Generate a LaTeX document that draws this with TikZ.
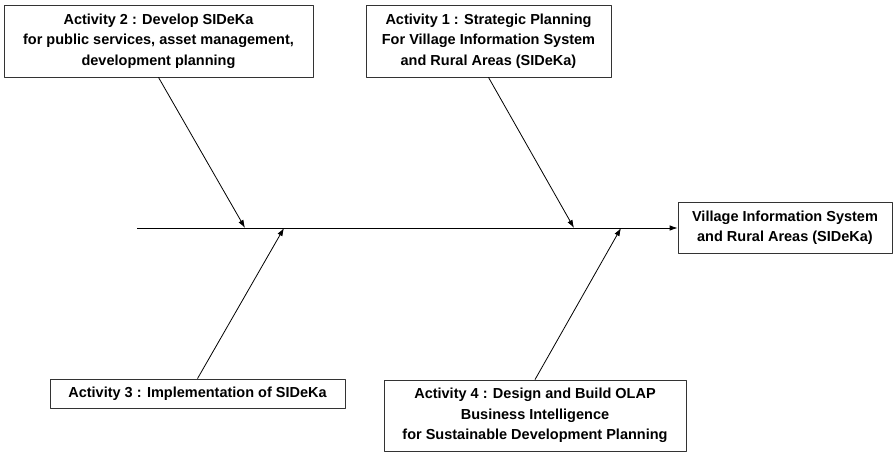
\documentclass[tikz,border=0pt]{standalone}
\usepackage{fontspec}
\setmainfont{Liberation Sans}
\usetikzlibrary{arrows.meta}
\begin{document}
\begin{tikzpicture}[>={Latex[length=8bp,width=5.5bp]},line join=bevel]
  \tikzset{actbox/.style={draw=black!80,line width=0.8bp,inner sep=0bp,align=center,
      font=\fontsize{14.5bp}{20.5bp}\selectfont\bfseries}}
  \useasboundingbox (0bp,0bp) rectangle (895bp,452bp);
  \pgfsetlinewidth{0.8bp}
%%
  % Node: Activity 2
  \node[actbox,minimum width=309bp,minimum height=72bp] (act2) at (158.5bp,411bp)
    {Activity 2 : Develop SIDeKa\\ for public services, asset management,\\ development planning};
  % Node: Activity 1
  \node[actbox,minimum width=245bp,minimum height=72bp] (act1) at (488.5bp,411bp)
    {Activity 1 : Strategic Planning\\ For Village Information System\\ and Rural Areas (SIDeKa)};
  % Node: Village Information System
  \node[actbox,minimum width=214bp,minimum height=51bp] (goal) at (785bp,224bp)
    {Village Information System\\ and Rural Areas (SIDeKa)};
  % Node: Activity 3
  \node[actbox,minimum width=295bp,minimum height=29bp] (act3) at (197.5bp,58.5bp)
    {Activity 3 : Implementation of SIDeKa};
  % Node: Activity 4
  \node[actbox,minimum width=302bp,minimum height=71bp] (act4) at (535bp,36.5bp)
    {Activity 4 : Design and Build OLAP\\ Business Intelligence\\ for Sustainable Development Planning};
%%
  \coordinate (tail) at (137bp,224bp);
  \coordinate (t2) at (245bp,224bp);
  \coordinate (t3) at (284bp,224bp);
  \coordinate (t1) at (574bp,224bp);
  \coordinate (t4) at (621bp,224bp);
  % Edge: tail -> Village Information System
  \draw [->] (tail) -- (goal.west);
  % Edge: Activity 2 -> spine
  \draw [->] (act2.south) -- (t2);
  % Edge: Activity 1 -> spine
  \draw [->] (act1.south) -- (t1);
  % Edge: Activity 3 -> spine
  \draw [->] (act3.north) -- (t3);
  % Edge: Activity 4 -> spine
  \draw [->] (act4.north) -- (t4);
%
\end{tikzpicture}
\end{document}
